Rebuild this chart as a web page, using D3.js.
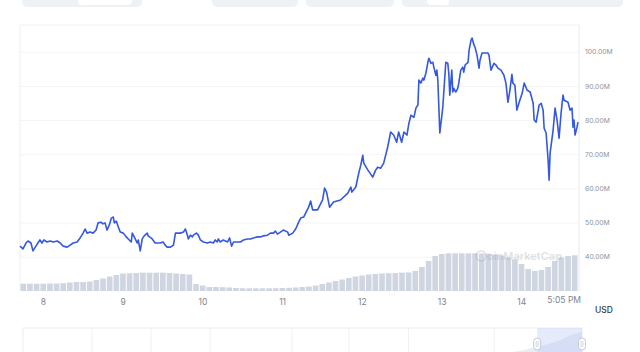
<!DOCTYPE html>
<html>
<head>
<meta charset="utf-8">
<script src="https://cdn.jsdelivr.net/npm/d3@7"></script>
<style>
  body { margin: 0; background: #fff; }
  svg { display: block; font-family: Inter, "Noto Sans", sans-serif; }
</style>
</head>
<body>
<div class="chart"></div>
<script>
// price in millions USD, hours after the start (day 7, 5:05 PM)
const priceHours = [0,0.9,1.8,2.4,3.3,3.9,4.8,5.4,6.0,6.6,7.2,8.1,9.1,10.0,11.2,12.1,13.0,14.2,15.1,16.0,17.2,18.1,19.0,19.6,20.2,21.1,22.0,22.9,23.5,24.4,25.0,25.6,26.2,26.9,27.5,28.1,28.4,29.0,29.6,30.2,31.1,32.0,32.6,33.5,33.8,34.4,35.3,35.6,36.2,36.8,37.4,38.3,38.6,39.8,40.7,41.6,42.2,43.1,43.7,44.3,45.3,46.2,46.8,47.4,48.3,49.2,49.8,50.4,50.7,51.3,51.9,52.2,53.1,53.7,54.3,55.2,56.4,57.3,58.2,58.8,59.4,59.7,60.3,61.2,62.5,63.1,63.7,64.3,65.5,66.4,67.3,68.5,69.4,70.3,71.5,72.4,73.3,74.5,75.4,76.3,76.9,77.5,78.4,79.3,80.6,80.9,82.1,83.0,83.9,84.5,85.4,86.9,87.5,88.1,89.6,91.1,91.7,92.3,93.2,94.4,96.5,98.7,99.6,99.9,101.1,102.0,102.6,103.2,103.5,104.7,106.2,107.1,107.7,108.6,109.5,110.7,111.6,112.5,113.4,114.0,114.9,115.6,116.5,117.1,117.7,118.6,119.2,119.8,120.1,120.7,121.3,121.6,122.2,122.8,123.1,123.7,124.3,124.6,125.2,125.5,125.8,126.4,127.3,127.6,128.2,128.8,129.1,129.4,130.0,130.3,130.6,131.2,131.8,132.1,132.7,133.3,133.6,134.0,134.9,135.2,135.8,136.1,136.7,137.0,137.6,138.2,138.5,139.1,139.7,140.9,141.2,141.8,142.7,143.3,143.9,144.8,145.7,146.3,146.9,147.5,148.1,148.4,149.0,149.6,150.2,151.2,151.8,152.7,153.6,154.5,154.8,155.4,156.3,156.9,157.5,157.8,158.4,159.0,159.3,159.6,160.5,161.1,161.7,162.3,162.9,163.5,163.8,165.0,165.6,166.2,166.5,166.8,167.1,167.7,168];
const priceValues = [43.1,42.3,44.0,44.6,44.0,41.7,43.1,44.0,44.9,44.0,44.9,44.3,44.6,44.3,44.6,44.0,43.1,42.8,43.4,44.0,44.3,45.5,46.9,48.1,46.9,47.2,46.9,47.8,49.9,50.1,49.6,49.9,47.8,49.3,51.3,51.6,49.9,50.4,48.7,47.2,46.9,45.8,45.2,44.3,46.9,45.8,44.0,44.9,41.7,45.2,46.1,46.9,46.1,45.2,44.0,44.0,44.0,44.3,43.4,42.8,42.8,43.4,46.9,46.9,46.9,47.2,48.1,46.3,45.2,46.3,45.8,46.3,46.9,46.3,44.9,44.3,44.0,44.3,44.0,44.9,44.3,45.2,44.3,44.9,44.3,45.5,43.1,44.3,44.3,44.3,44.9,45.2,45.2,45.5,45.8,45.8,46.1,46.3,46.9,46.9,47.5,46.6,47.2,47.8,47.2,46.3,46.9,48.1,50.1,51.3,51.6,54.5,56.3,53.7,53.7,56.6,60.1,58.9,54.5,56.0,56.6,58.6,60.4,58.9,60.4,64.5,66.8,69.7,67.4,65.4,63.3,65.4,66.2,65.9,67.4,72.1,76.5,75.6,73.5,76.5,73.5,76.5,75.6,79.1,81.4,80.8,83.5,84.4,91.7,90.8,92.3,91.7,93.7,96.9,98.1,96.6,96.9,95.5,93.1,94.6,91.7,76.2,83.8,88.2,96.9,96.6,93.7,87.3,94.6,88.2,89.3,88.2,89.3,90.8,94.6,95.5,94.0,96.1,96.9,100.4,103.4,104.0,101.9,101.3,99.0,95.2,97.5,99.6,99.6,99.6,99.0,94.6,96.6,96.1,95.2,94.6,93.1,90.8,85.2,88.7,93.4,90.8,90.2,82.9,84.9,87.9,90.8,88.7,88.2,84.9,80.0,79.4,84.4,84.9,82.9,77.6,76.2,68.3,62.4,70.3,77.0,83.5,80.0,74.7,82.0,87.3,85.8,85.2,82.9,83.5,77.9,80.0,75.6,77.9,79.4];

// volume in 2-hour buckets (millions USD, rough reading)
const volumeValues = [7.3,7.3,7.3,7.3,7.5,7.5,7.8,8.5,9,9,9.5,11,12.5,14.5,16,17.5,17.7,18,18.3,18.3,18.3,18.3,18,17.5,17,16.5,7,5.5,4,4,3.8,3.5,3,2.8,2.7,2.7,2.7,2.7,2.8,3,3.2,3.5,4,4.5,5.5,7,8.5,10,11.5,13,14.5,15.5,16.5,17,17.5,17.8,18,18.3,18.5,20,24,30,35,37,37.7,37.7,37.7,37.7,37.7,37.5,37.3,36.5,35.5,33.5,31.5,27,22,20,21,24,30,33.5,35,35.7];

const yTicks = [40, 50, 60, 70, 80, 90, 100];
const endLabel = '5:05 PM';
const currency = 'USD';

// navigator: days from its start
const navTickDays = [10.8, 20, 29.2, 42, 50.9, 60.2, 73.6];
const navDays = [67, 70, 73, 76, 78, 80, 82, 84, 86, 87.3];
const navValues = [2, 3, 5, 8, 14, 22, 30, 40, 55, 60];

const svg_width = 640, svg_height = 352;
const margin = {top: 25, right: 62, bottom: 61, left: 20};
const start = new Date(2021, 2, 7, 17, 5);
const hour = 3600 * 1000;
const end = new Date(+start + 168 * hour);

const svg = d3.select('.chart').append('svg')
  .attr('width', svg_width).attr('height', svg_height);

// toolbar buttons cut off at the top
const buttons = [[22, 120], [212, 86], [306, 88], [402, 221]];
svg.append('g').selectAll('rect').data(buttons).join('rect')
  .attr('x', d => d[0]).attr('y', -12).attr('width', d => d[1]).attr('height', 19)
  .attr('rx', 5).attr('fill', '#eff2f5');
svg.append('rect').attr('x', 78).attr('y', -12).attr('width', 54).attr('height', 17)
  .attr('rx', 4).attr('fill', '#fff');
svg.append('rect').attr('x', 427).attr('y', -12).attr('width', 22).attr('height', 17)
  .attr('rx', 4).attr('fill', '#fff');

const x = d3.scaleTime().domain([start, end]).range([margin.left, svg_width - margin.right]);
const y = d3.scaleLinear().domain([40, 100]).range([256.7, 51.7]);
const yVol = d3.scaleLinear().domain([0, 40]).range([291, 251]);

const plotRight = svg_width - margin.right + 1;

// frame
svg.append('line').attr('x1', margin.left).attr('x2', plotRight)
  .attr('y1', margin.top).attr('y2', margin.top).attr('stroke', '#eef0f3');
svg.append('line').attr('x1', margin.left).attr('x2', margin.left)
  .attr('y1', margin.top).attr('y2', 291).attr('stroke', '#eef0f3');
svg.append('line').attr('x1', plotRight).attr('x2', plotRight)
  .attr('y1', margin.top).attr('y2', 291).attr('stroke', '#e6e9ee');

// y axis on the right
const y_axis = d3.axisRight(y).tickValues(yTicks)
  .tickFormat(d => d3.format('.2f')(d) + 'M')
  .tickSizeInner(-(plotRight - margin.left)).tickSizeOuter(0);
const gy = svg.append('g').attr('transform', `translate(${plotRight},0)`).call(y_axis);
gy.select('.domain').remove();
gy.selectAll('line').attr('stroke', '#f3f4f6');
gy.selectAll('text').attr('x', 6).attr('fill', '#8c93a0')
  .style('font-size', '6.8px').style('font-family', 'Inter, sans-serif');

// volume bars
const barW = x(new Date(+start + 2 * hour)) - x(start);
svg.append('g').selectAll('rect').data(volumeValues).join('rect')
  .attr('x', (d, i) => x(new Date(+start + i * 2 * hour)) + 0.5)
  .attr('y', d => yVol(d))
  .attr('width', barW - 1)
  .attr('height', d => yVol(0) - yVol(d))
  .attr('fill', '#cfd5e1');

// watermark
const wm = svg.append('g').attr('opacity', 0.3);
wm.append('circle').attr('cx', 481).attr('cy', 256).attr('r', 5)
  .attr('fill', 'none').attr('stroke', '#9aa1ad').attr('stroke-width', 1.4);
wm.append('text').attr('x', 487).attr('y', 260).text('oinMarketCap')
  .attr('fill', '#9aa1ad').style('font-size', '11px').style('font-weight', 600);

// price line
const priceData = priceHours.map((h, i) => ({t: new Date(+start + h * hour), v: priceValues[i]}));
const line = d3.line().x(d => x(d.t)).y(d => y(d.v));
svg.append('path').datum(priceData)
  .attr('d', line).attr('fill', 'none')
  .attr('stroke', '#3458df').attr('stroke-width', 1.6)
  .attr('stroke-linejoin', 'round');

// x axis
const x_axis = d3.axisBottom(x).tickValues(d3.timeDay.range(start, end))
  .tickFormat(d3.timeFormat('%-d')).tickSize(0);
const gx = svg.append('g').attr('transform', 'translate(0,296)').call(x_axis);
gx.select('.domain').remove();
gx.selectAll('text').attr('fill', '#7d8491')
  .style('font-size', '8.5px').style('font-family', 'Inter, sans-serif');
svg.append('text').attr('x', x(end) + 3).attr('y', 303).attr('text-anchor', 'end')
  .text(endLabel).attr('fill', '#7d8491').style('font-size', '8.5px');
svg.append('text').attr('x', 604).attr('y', 313).attr('text-anchor', 'middle')
  .text(currency).attr('fill', '#333a45').style('font-size', '8.5px').style('font-weight', 500);

// navigator
const navX = d3.scaleLinear().domain([0, 87.3]).range([23, 582]);
const navY = d3.scaleLinear().domain([0, 60]).range([356, 332]);
const nav = svg.append('g');
nav.append('rect').attr('x', 23).attr('y', 328).attr('width', 559).attr('height', 40)
  .attr('fill', '#fff').attr('stroke', '#eceef2');
nav.selectAll('line').data(navTickDays).join('line')
  .attr('x1', d => navX(d)).attr('x2', d => navX(d))
  .attr('y1', 328).attr('y2', 352).attr('stroke', '#f0f1f4');
nav.append('path')
  .datum(navDays.map((d, i) => [d, navValues[i]]))
  .attr('d', d3.area().x(d => navX(d[0])).y0(navY(0)).y1(d => navY(d[1])))
  .attr('fill', '#e7ecf8');
nav.append('rect').attr('x', navX(80.3)).attr('y', 328).attr('width', navX(87.3) - navX(80.3)).attr('height', 30)
  .attr('fill', 'rgba(180,198,240,0.35)');
[80.3, 87.3].forEach(d => {
  const hx = navX(d);
  nav.append('rect').attr('x', hx - 3.5).attr('y', 338).attr('width', 7).attr('height', 12)
    .attr('rx', 3.5).attr('fill', '#fff').attr('stroke', '#c3c9d4');
  nav.append('line').attr('x1', hx - 1).attr('x2', hx - 1).attr('y1', 341).attr('y2', 347).attr('stroke', '#b0b6c2').attr('stroke-width', 0.6);
  nav.append('line').attr('x1', hx + 1).attr('x2', hx + 1).attr('y1', 341).attr('y2', 347).attr('stroke', '#b0b6c2').attr('stroke-width', 0.6);
});
</script>
</body>
</html>
